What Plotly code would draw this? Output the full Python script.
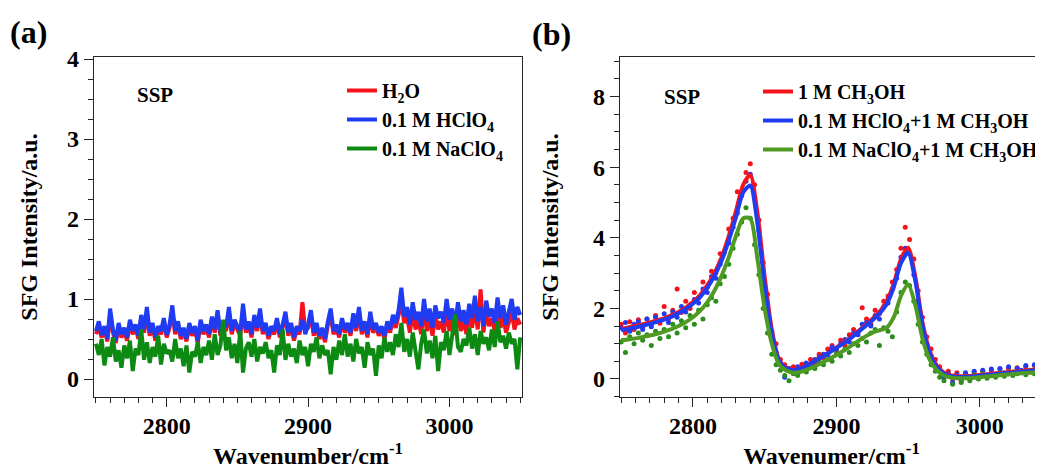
import numpy as np
import plotly.graph_objects as go

# ---------------- data ----------------
WN_START = 2750          # first wavenumber (cm-1)
STEP_A = 2               # sampling step of panel (a) spectra
STEP_DOTS = 3            # sampling step of panel (b) measured points
STEP_FIT = 5             # sampling step of panel (b) fitted curves

# Panel (a): SSP spectra of neat water and 0.1 M salt/acid solutions
a_h2o = [0.56, 0.66, 0.52, 0.62, 0.47, 0.78, 0.58, 0.45, 0.65, 0.52,
         0.60, 0.48, 0.70, 0.56, 0.64, 0.50, 0.76, 0.58, 0.82, 0.54,
         0.66, 0.48, 0.62, 0.56, 0.72, 0.52, 0.64, 0.84, 0.56, 0.68,
         0.50, 0.60, 0.47, 0.66, 0.54, 0.62, 0.45, 0.70, 0.56, 0.64,
         0.52, 0.74, 0.58, 0.80, 0.54, 0.66, 0.60, 0.84, 0.56, 0.70,
         0.62, 0.54, 0.86, 0.58, 0.68, 0.52, 0.76, 0.60, 0.82, 0.56,
         0.66, 0.50, 0.62, 0.56, 0.72, 0.52, 0.64, 0.78, 0.54, 0.66,
         0.48, 0.62, 0.56, 0.96, 0.60, 0.64, 0.80, 0.54, 0.66, 0.50,
         0.60, 0.46, 0.68, 0.80, 0.56, 0.64, 0.52, 0.72, 0.58, 0.66,
         0.54, 0.76, 0.60, 0.84, 0.56, 0.68, 0.52, 0.78, 0.58, 0.66,
         0.54, 0.62, 0.50, 0.68, 0.58, 0.74, 0.64, 0.80, 0.96, 0.70,
         0.78, 0.58, 0.84, 0.62, 0.74, 0.56, 0.88, 0.60, 0.76, 0.54,
         0.80, 0.62, 0.72, 0.58, 0.86, 0.60, 0.76, 0.55, 0.82, 0.60,
         0.74, 0.56, 0.80, 0.64, 0.90, 0.62, 1.12, 0.58, 0.84, 0.66,
         0.76, 0.60, 0.86, 0.64, 0.78, 0.58, 0.72, 0.84, 0.62, 0.76,
         0.68]
a_hclo4 = [0.60, 0.72, 0.55, 0.66, 0.50, 0.88, 0.62, 0.48, 0.70, 0.56,
           0.64, 0.52, 0.74, 0.60, 0.68, 0.54, 0.80, 0.62, 0.90, 0.58,
           0.70, 0.52, 0.66, 0.60, 0.76, 0.55, 0.68, 0.92, 0.60, 0.72,
           0.54, 0.64, 0.50, 0.70, 0.58, 0.66, 0.48, 0.74, 0.60, 0.68,
           0.56, 0.78, 0.62, 0.86, 0.58, 0.70, 0.64, 0.90, 0.60, 0.74,
           0.66, 0.58, 0.94, 0.62, 0.72, 0.56, 0.80, 0.64, 0.88, 0.60,
           0.70, 0.54, 0.66, 0.60, 0.76, 0.56, 0.68, 0.84, 0.58, 0.70,
           0.52, 0.66, 0.60, 0.74, 0.56, 0.68, 0.86, 0.58, 0.70, 0.54,
           0.64, 0.50, 0.72, 0.88, 0.60, 0.68, 0.56, 0.76, 0.62, 0.70,
           0.58, 0.82, 0.64, 0.90, 0.60, 0.72, 0.56, 0.84, 0.62, 0.70,
           0.58, 0.66, 0.54, 0.72, 0.62, 0.80, 0.70, 0.86, 1.14, 0.78,
           0.90, 0.68, 0.96, 0.74, 0.84, 0.66, 1.00, 0.72, 0.88, 0.64,
           0.92, 0.76, 0.84, 0.70, 1.00, 0.74, 0.88, 0.66, 0.96, 0.72,
           0.86, 0.68, 0.94, 0.76, 1.04, 0.72, 0.90, 0.66, 0.98, 0.78,
           0.88, 0.70, 1.02, 0.76, 0.92, 0.68, 0.84, 1.00, 0.74, 0.90,
           0.80]
a_naclo4 = [0.44, 0.30, 0.50, 0.17, 0.40, 0.28, 0.52, 0.22, 0.36, 0.14,
            0.42, 0.26, 0.48, 0.10, 0.38, 0.30, 0.62, 0.24, 0.46, 0.20,
            0.40, 0.28, 0.54, 0.18, 0.44, 0.32, 0.36, 0.22, 0.50, 0.26,
            0.38, 0.16, 0.42, 0.08, 0.34, 0.28, 0.46, 0.20, 0.40, 0.30,
            0.48, 0.24, 0.56, 0.30, 0.42, 0.74, 0.36, 0.52, 0.26, 0.44,
            0.20, 0.60, 0.08, 0.38, 0.46, 0.28, 0.50, 0.22, 0.40, 0.32,
            0.46, 0.26, 0.36, 0.08, 0.42, 0.30, 0.62, 0.24, 0.44, 0.28,
            0.38, 0.20, 0.48, 0.30, 0.40, 0.16, 0.44, 0.34, 0.52, 0.26,
            0.42, 0.30, 0.36, 0.06, 0.40, 0.24, 0.48, 0.30, 0.56, 0.28,
            0.44, 0.22, 0.50, 0.32, 0.40, 0.14, 0.46, 0.30, 0.38, 0.04,
            0.42, 0.26, 0.52, 0.34, 0.46, 0.30, 0.56, 0.40, 0.70, 0.34,
            0.50, 0.28, 0.58, 0.36, 0.12, 0.44, 0.62, 0.32, 0.48, 0.26,
            0.54, 0.10, 0.46, 0.36, 0.60, 0.30, 0.52, 0.81, 0.40, 0.34,
            0.50, 0.42, 0.64, 0.38, 0.56, 0.30, 0.60, 0.44, 0.52, 0.36,
            0.62, 0.40, 0.72, 0.46, 0.54, 0.38, 0.58, 0.44, 0.50, 0.12,
            0.52]

# Panel (b): measured points
b_meoh_pts = [1.55, 1.30, 1.62, 1.40, 1.68, 1.45, 1.70, 1.52, 1.80, 1.58,
              2.05, 1.70, 1.95, 2.55, 1.88, 2.20, 2.00, 2.45, 2.30, 2.75,
              2.60, 3.05, 3.00, 3.55, 3.60, 4.25, 4.55, 5.30, 5.25, 5.85,
              6.10, 5.50, 4.50, 3.30, 2.40, 1.35, 1.00, 0.55, 0.40, 0.30,
              0.35, 0.20, 0.42, 0.30, 0.55, 0.45, 0.70, 0.60, 0.85, 0.95,
              0.80, 1.10, 0.95, 1.25, 1.40, 1.30, 2.02, 1.70, 1.55, 1.95,
              1.85, 2.20, 2.35, 2.75, 3.10, 3.70, 4.30, 3.95, 3.40, 2.50,
              1.75, 1.20, 0.85, 0.55, 0.35, 0.10, 0.22, 0.00, 0.18, -0.05,
              0.15, 0.02, 0.20, 0.05, 0.22, 0.08, 0.25, 0.10, 0.28, 0.12,
              0.30, 0.15, 0.32, 0.18, 0.35, 0.20, 0.38, 0.22, 0.36, 0.25,
              0.40]
b_hclo4_pts = [1.45, 1.60, 1.35, 1.55, 1.62, 1.40, 1.70, 1.48, 1.75, 1.65,
               1.85, 1.60, 1.90, 1.75, 2.05, 1.90, 2.10, 2.25, 2.15, 2.55,
               2.45, 2.90, 2.85, 3.25, 3.60, 3.85, 4.30, 4.70, 5.20, 5.60,
               5.80, 5.15, 4.20, 3.00, 2.10, 1.25, 0.75, 0.40, 0.05, 0.30,
               0.20, 0.35, 0.28, 0.45, 0.40, 0.55, 0.62, 0.70, 0.68, 0.90,
               0.85, 1.00, 1.12, 1.05, 1.30, 1.25, 1.55, 1.60, 1.50, 1.80,
               1.70, 2.05, 2.15, 2.55, 2.85, 3.45, 3.70, 3.55, 2.95, 2.20,
               1.50, 1.00, 0.65, 0.35, 0.25, 0.05, 0.15, -0.10, 0.12, 0.00,
               0.18, 0.05, 0.22, 0.10, 0.25, 0.12, 0.28, 0.15, 0.30, 0.18,
               0.35, 0.20, 0.30, 0.25, 0.38, 0.22, 0.40, 0.28, 0.35, 0.24,
               0.38]
b_naclo4_pts = [1.05, 0.75, 1.20, 1.00, 1.30, 1.10, 1.25, 0.95, 1.35, 1.15,
                1.40, 1.20, 1.55, 1.30, 1.65, 1.45, 1.80, 1.55, 1.95, 1.70,
                2.10, 2.30, 2.20, 2.70, 2.90, 3.25, 3.70, 4.10, 4.45, 4.85,
                4.55, 3.80, 2.95, 2.00, 1.30, 0.70, 0.40, 0.25, 0.10, -0.05,
                0.15, 0.10, 0.28, 0.20, 0.35, 0.30, 0.48, 0.40, 0.55, 0.50,
                0.72, 0.65, 0.85, 0.75, 1.00, 0.95, 1.15, 1.05, 1.30, 1.40,
                0.95, 1.45, 1.35, 1.20, 1.90, 2.45, 2.75, 2.65, 2.20, 1.55,
                1.05, 0.70, 0.40, 0.22, 0.05, -0.05, 0.10, -0.15, 0.05, -0.10,
                0.08, -0.05, 0.12, 0.00, 0.15, 0.02, 0.10, 0.05, 0.18, 0.08,
                0.20, 0.10, 0.15, 0.22, 0.12, 0.25, 0.15, 0.28, 0.18, 0.22,
                0.25]

# Panel (b): fitted curves
b_meoh_fit = [1.42, 1.46, 1.50, 1.55, 1.60, 1.66, 1.72, 1.80, 1.90, 2.02,
              2.18, 2.38, 2.65, 3.00, 3.45, 4.05, 4.75, 5.50, 5.78, 4.70,
              2.90, 1.40, 0.55, 0.32, 0.26, 0.30, 0.40, 0.52, 0.63, 0.76,
              0.89, 1.03, 1.18, 1.35, 1.52, 1.70, 1.90, 2.20, 2.70, 3.40,
              3.72, 2.90, 1.60, 0.80, 0.38, 0.18, 0.10, 0.08, 0.08, 0.09,
              0.11, 0.13, 0.15, 0.17, 0.19, 0.21, 0.23, 0.25, 0.27, 0.29,
              0.30]
b_hclo4_fit = [1.38, 1.42, 1.46, 1.51, 1.56, 1.62, 1.68, 1.76, 1.86, 1.98,
               2.13, 2.32, 2.58, 2.92, 3.35, 3.92, 4.58, 5.28, 5.48, 4.40,
               2.65, 1.30, 0.52, 0.30, 0.25, 0.29, 0.39, 0.51, 0.62, 0.75,
               0.88, 1.01, 1.16, 1.32, 1.49, 1.66, 1.85, 2.12, 2.60, 3.28,
               3.58, 2.78, 1.52, 0.74, 0.34, 0.15, 0.08, 0.06, 0.06, 0.07,
               0.09, 0.11, 0.13, 0.15, 0.17, 0.19, 0.21, 0.23, 0.25, 0.27,
               0.28]
b_naclo4_fit = [1.10, 1.12, 1.15, 1.19, 1.23, 1.28, 1.34, 1.41, 1.50, 1.61,
                1.75, 1.93, 2.17, 2.50, 2.92, 3.45, 4.05, 4.55, 4.55, 3.40,
                2.00, 1.00, 0.42, 0.24, 0.18, 0.20, 0.27, 0.36, 0.46, 0.57,
                0.68, 0.80, 0.93, 1.07, 1.20, 1.31, 1.38, 1.45, 1.75, 2.35,
                2.68, 2.10, 1.15, 0.55, 0.25, 0.10, 0.04, 0.02, 0.02, 0.03,
                0.05, 0.07, 0.09, 0.11, 0.13, 0.15, 0.17, 0.18, 0.19, 0.20,
                0.21]

names_a = ["H<sub>2</sub>O", "0.1 M HClO<sub>4</sub>", "0.1 M NaClO<sub>4</sub>"]
names_b = ["1 M CH<sub>3</sub>OH",
           "0.1 M HClO<sub>4</sub>+1 M CH<sub>3</sub>OH",
           "0.1 M NaClO<sub>4</sub>+1 M CH<sub>3</sub>OH"]


def wn(vals, step):
    return WN_START + step * np.arange(len(vals))


# ---------------- styling ----------------
FONT = "Liberation Serif, Times New Roman, serif"
AXC = "#262626"
RED = "#F5131B"
BLUE = "#1F3CF2"
GREEN_A = "#0C8A12"
GREEN_LINE = "#4F9A22"
GREEN_DOT = "#2A8E1C"

# page body has an 8 px default margin: size the figure to fill the rest of the window
PAGE_OFF = 8
W, H = 1043 - PAGE_OFF, 473 - PAGE_OFF


def px(wx):
    return (wx - PAGE_OFF) / W


def py(wy):
    return 1 - (wy - PAGE_OFF) / H


fig = go.Figure()

# Panel (a)
for vals, name, col in zip([a_h2o, a_hclo4, a_naclo4], names_a, [RED, BLUE, GREEN_A]):
    fig.add_trace(go.Scatter(x=wn(vals, STEP_A), y=vals, mode="lines", name=name,
                             line=dict(color=col, width=4), xaxis="x", yaxis="y",
                             legend="legend"))

# Panel (b) points
for vals, col in zip([b_meoh_pts, b_hclo4_pts, b_naclo4_pts], [RED, BLUE, GREEN_DOT]):
    fig.add_trace(go.Scatter(x=wn(vals, STEP_DOTS), y=vals, mode="markers", showlegend=False,
                             marker=dict(color=col, size=5), xaxis="x2", yaxis="y2"))
# Panel (b) fits
for vals, name, col in zip([b_meoh_fit, b_hclo4_fit, b_naclo4_fit], names_b, [RED, BLUE, GREEN_LINE]):
    fig.add_trace(go.Scatter(x=wn(vals, STEP_FIT), y=vals, mode="lines", name=name,
                             line=dict(color=col, width=4, shape="spline", smoothing=0.7),
                             xaxis="x2", yaxis="y2", legend="legend2"))

TICKFONT = dict(family=FONT, size=24, color="black", weight="bold")
TITLEFONT = dict(family=FONT, size=24, color="black", weight="bold")


def xaxis(domain, rng, anchor, title):
    return dict(domain=domain, range=rng, anchor=anchor, showline=True, linecolor=AXC,
                linewidth=1.3, mirror=True, ticks="outside", ticklen=9, tickwidth=1.3,
                tickcolor=AXC, dtick=100, tick0=2800, ticklabelstandoff=-2,
                minor=dict(dtick=10, tick0=2800, ticks="outside", ticklen=5, tickwidth=1.2,
                           tickcolor=AXC, showgrid=False),
                showgrid=False, zeroline=False, tickfont=TICKFONT,
                title=dict(text=title, font=TITLEFONT, standoff=3), automargin=False)


def yaxis(domain, rng, anchor, dtick, minor, standoff):
    return dict(domain=domain, range=rng, anchor=anchor, showline=True, linecolor=AXC,
                linewidth=1.3, mirror=True, ticks="outside", ticklen=9, tickwidth=1.3,
                tickcolor=AXC, dtick=dtick, tick0=0,
                minor=dict(dtick=minor, tick0=0, ticks="outside", ticklen=5, tickwidth=1.2,
                           tickcolor=AXC, showgrid=False),
                showgrid=False, zeroline=False, tickfont=TICKFONT,
                title=dict(text="SFG Intensity/a.u.", font=TITLEFONT, standoff=standoff),
                automargin=False)


ydom = [py(397), py(57)]
LEGFONT = dict(family=FONT, size=20, color="black", weight="bold")

fig.update_layout(
    width=W, height=H, margin=dict(l=0, r=0, t=0, b=0),
    paper_bgcolor="white", plot_bgcolor="white",
    font=dict(family=FONT, color="black"),
    xaxis=xaxis([px(94), px(522)], [2748.6, 3051.3], "y", "Wavenumber/cm<sup>-1</sup>"),
    yaxis=yaxis(ydom, [-0.225, 4.025], "x", 1, 0.25, 22),
    xaxis2=xaxis([px(620), 1.0], [2749.2, 3044.0], "y2", "Wavenumer/cm<sup>-1</sup>"),
    yaxis2=yaxis(ydom, [-0.51, 9.12], "x2", 2, 0.5, 27),
    legend=dict(x=px(342), y=py(71), xanchor="left", yanchor="top",
                bgcolor="rgba(0,0,0,0)", borderwidth=0, font=LEGFONT),
    legend2=dict(x=px(758), y=py(72), xanchor="left", yanchor="top",
                 bgcolor="rgba(0,0,0,0)", borderwidth=0, font=LEGFONT),
    annotations=[
        dict(text="(a)", x=px(28), y=py(32), xref="paper", yref="paper", showarrow=False,
             xanchor="center", yanchor="middle",
             font=dict(family=FONT, size=32, color="black", weight="bold")),
        dict(text="(b)", x=px(551), y=py(34), xref="paper", yref="paper", showarrow=False,
             xanchor="center", yanchor="middle",
             font=dict(family=FONT, size=32, color="black", weight="bold")),
        dict(text="SSP", x=px(155), y=py(95), xref="paper", yref="paper", showarrow=False,
             xanchor="center", yanchor="middle",
             font=dict(family=FONT, size=21, color="black", weight="bold")),
        dict(text="SSP", x=px(682), y=py(97), xref="paper", yref="paper", showarrow=False,
             xanchor="center", yanchor="middle",
             font=dict(family=FONT, size=21, color="black", weight="bold")),
    ],
)

fig.write_html("out.html")
